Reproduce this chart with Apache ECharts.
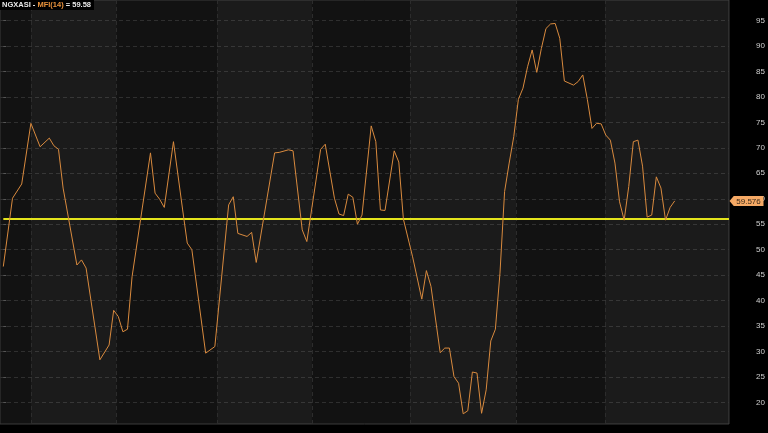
<!DOCTYPE html>
<html>
<head>
<meta charset="utf-8">
<script src="https://cdn.jsdelivr.net/npm/echarts@6/dist/echarts.min.js"></script>
<style>
html,body{margin:0;padding:0;background:#000;}
#c{width:768px;height:433px;}
</style>
</head>
<body>
<div id="c"></div>
<script>
// trading-day index of each turning point
const days = [0,2,4,6,8,10,11,12,13,16,17,18,21,23,24,25,26,27,28,32,33,34,35,37,39,40,41,44,46,49,50,51,53,54,55,59,60,62,63,65,66,69,70,72,73,74,75,76,77,78,80,81,82,83,85,86,87,89,91,92,93,95,96,97,98,99,100,101,102,103,104,105,106,107,108,109,110,111,112,113,114,115,116,117,118,119,120,121,122,124,125,126,127,128,129,130,131,132,133,134,135,136,137,138,139,140,141,142,143,144,145,146];
const mfi = [46.7,60.1,62.9,74.8,70.2,71.9,70.4,69.7,62.1,47.0,48.0,46.4,28.4,31.3,38.1,36.9,33.9,34.4,44.7,69.0,61.1,59.9,58.3,71.2,57.8,51.3,50.0,29.7,31.0,58.8,60.4,53.2,52.6,53.4,47.5,69.0,69.1,69.6,69.4,53.9,51.6,69.7,70.7,60.1,57.0,56.7,60.9,60.3,55.0,56.8,74.3,71.2,57.8,57.7,69.4,67.2,56.0,48.6,40.3,45.9,42.8,29.8,30.7,30.7,25.1,23.8,17.8,18.4,26.0,25.8,17.9,22.5,32.1,34.4,45.4,61.4,67.0,72.2,79.5,81.7,85.9,89.2,84.8,89.5,93.4,94.3,94.4,91.5,83.1,82.3,83.0,84.3,79.5,73.8,74.8,74.7,72.5,71.5,67.0,59.4,55.8,62.4,71.2,71.5,66.4,56.4,56.8,64.3,62.1,55.8,58.3,59.58];
const yTicks = [20,25,30,35,40,45,50,55,60,65,70,75,80,85,90,95];
const monthStarts = [6,24.6,46.5,67.1,88.4,111.5,130.8];
const refLevel = 56;
const lastValue = 59.576;
const titleSymbol = 'NGXASI';
const titleIndicator = 'MFI(14)';
const titleValue = '59.58';

const xMin = -0.72, xMax = 157.8;
const bounds = [xMin].concat(monthStarts, [xMax]);
const bandAreas = [];
for (let i = 0; i < bounds.length - 1; i++) {
  if (i % 2 === 1) bandAreas.push([{xAxis: bounds[i]}, {xAxis: bounds[i+1]}]);
}
const FF = 'Liberation Sans, Arial, sans-serif';

const chart = echarts.init(document.getElementById('c'), null, {renderer: 'canvas'});
chart.setOption({
  backgroundColor: '#000',
  animation: false,
  title: {
    text: '{w|' + titleSymbol + ' - }{o|' + titleIndicator + '}{w| = ' + titleValue + '}',
    left: 0, top: 0,
    padding: [1, 3, 1, 2],
    backgroundColor: '#000',
    textStyle: {
      rich: {
        w: {color: '#e8e8e8', fontSize: 7.5, fontFamily: FF},
        o: {color: '#e8923c', fontSize: 7.5, fontFamily: FF}
      }
    }
  },
  grid: {
    left: 0, right: 39, top: 0, bottom: 9,
    show: true, backgroundColor: '#121212', borderColor: '#3a3a3a', borderWidth: 1
  },
  xAxis: {
    type: 'value', min: xMin, max: xMax,
    axisLine: {show: false}, axisTick: {show: false}, axisLabel: {show: false}, splitLine: {show: false}
  },
  yAxis: {
    type: 'value', position: 'right', min: 15.8, max: 99,
    axisLine: {show: false},
    axisTick: {show: true, length: 3, customValues: yTicks, lineStyle: {color: '#555'}},
    axisLabel: {show: true, customValues: yTicks, color: '#cfcfcf', fontSize: 8, align: 'right', margin: 36,
      fontFamily: FF},
    splitLine: {show: true, lineStyle: {color: '#2f2f2f', type: [4, 3], width: 1}}
  },
  series: [
    {
      type: 'line', data: [], silent: true, z: 1,
      markArea: {silent: true, itemStyle: {color: 'rgba(255,255,255,0.04)'}, data: bandAreas},
      markLine: {
        silent: true, symbol: 'none', label: {show: false},
        lineStyle: {color: '#2c2c2c', type: [4, 3], width: 1},
        data: monthStarts.map(v => ({xAxis: v}))
      }
    },
    {
      type: 'line', name: 'MFI(14)', z: 5,
      data: days.map((d, i) => [d, mfi[i]]),
      showSymbol: false, symbol: 'none',
      lineStyle: {color: '#d98a3e', width: 1},
      itemStyle: {color: '#d98a3e'},
      markLine: {
        silent: true, symbol: 'none', label: {show: false},
        lineStyle: {color: '#e4e41c', width: 2, type: 'solid'},
        data: [[{coord: [0, refLevel]}, {coord: [xMax, refLevel]}]]
      },
      markPoint: {
        silent: true,
        symbol: 'path://M0,5 L5,0 L40,0 L40,10 L5,10 Z',
        symbolSize: [34, 10],
        symbolKeepAspect: false,
        symbolOffset: [17.5, 0],
        itemStyle: {color: '#f5a965'},
        label: {show: true, color: '#3a2a1a', fontSize: 8, offset: [2, 0.5],
          fontFamily: FF,
          formatter: String(lastValue)},
        data: [{coord: [xMax, lastValue]}]
      }
    }
  ]
});
</script>
</body>
</html>
